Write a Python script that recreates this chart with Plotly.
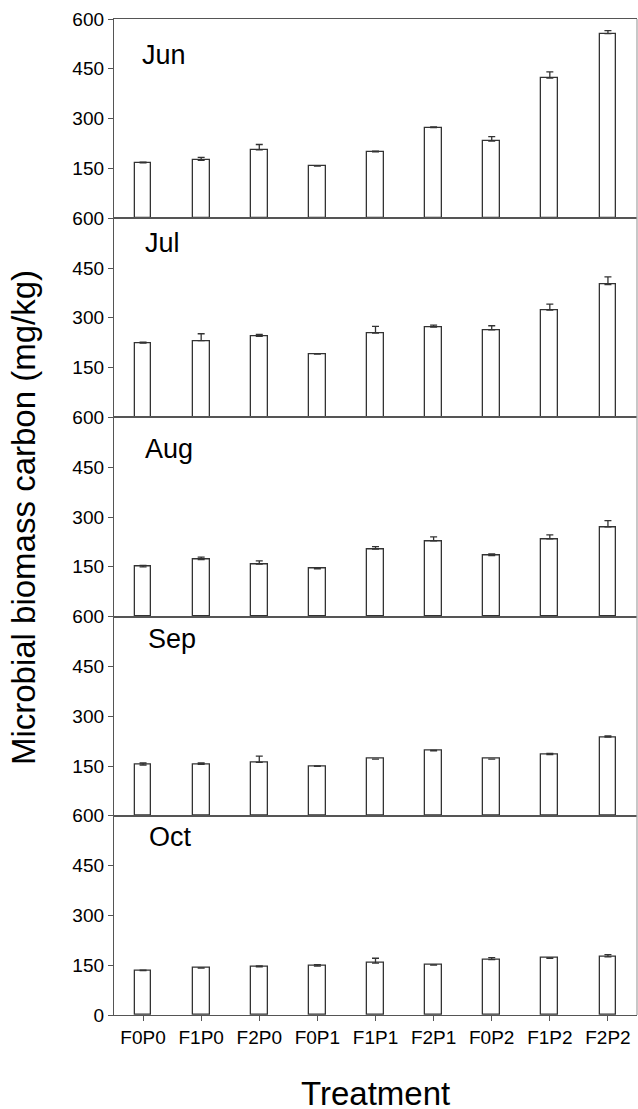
import plotly.graph_objects as go
from plotly.subplots import make_subplots

treatments = ["F0P0", "F1P0", "F2P0", "F0P1", "F1P1", "F2P1", "F0P2", "F1P2", "F2P2"]
months = ["Jun", "Jul", "Aug", "Sep", "Oct"]

jun = [167, 174, 206, 157, 200, 273, 232, 422, 556]
jun_err = [2, 9, 16, 1, 2, 2, 14, 19, 9]
jul = [224, 231, 244, 191, 254, 272, 264, 323, 400]
jul_err = [3, 21, 6, 0, 20, 6, 12, 18, 23]
aug = [150, 172, 158, 144, 203, 228, 184, 234, 270]
aug_err = [4, 7, 10, 1, 8, 12, 5, 12, 19]
sep = [153, 155, 161, 149, 171, 196, 171, 184, 237]
sep_err = [6, 4, 19, 1, 0, 1, 0, 4, 4]
oct_ = [134, 141, 145, 147, 156, 150, 167, 171, 175]
oct_err = [1, 1, 3, 5, 15, 1, 6, 1, 7]

values = [jun, jul, aug, sep, oct_]
errors = [jun_err, jul_err, aug_err, sep_err, oct_err]

# panel-label placement (domain fractions)
label_x = [0.050, 0.056, 0.056, 0.061, 0.064]
label_y = [0.819, 0.874, 0.840, 0.890, 0.895]

fig = make_subplots(rows=5, cols=1, shared_xaxes=True, vertical_spacing=0)

font_family = "Liberation Sans, Arial, sans-serif"
axis_col = "#555555"

for i, (m, v, e) in enumerate(zip(months, values, errors)):
    r = i + 1
    fig.add_trace(go.Bar(
        x=treatments, y=v, width=0.29,
        marker=dict(color="white", line=dict(color="#333333", width=1.3)),
        error_y=dict(type="data", array=e, arrayminus=[0]*len(e), symmetric=False,
                     color="#333333", thickness=1.3, width=3.5),
        showlegend=False, hoverinfo="skip",
    ), row=r, col=1)
    tickvals = [0, 150, 300, 450, 600] if r == 5 else [150, 300, 450, 600]
    fig.update_yaxes(range=[0, 600], tickvals=tickvals, ticks="outside", ticklen=5,
                     tickcolor=axis_col, showline=True, linecolor=axis_col, linewidth=1.3,
                     showgrid=False, zeroline=False,
                     tickfont=dict(size=19, color="black", family=font_family),
                     row=r, col=1)
    fig.update_xaxes(range=[-0.5, 8.5], showline=True, linecolor=axis_col, linewidth=1.3,
                     mirror=True, showgrid=False, zeroline=False,
                     ticks="outside" if r == 5 else "", ticklen=5, tickcolor=axis_col,
                     showticklabels=(r == 5),
                     tickfont=dict(size=19, color="black", family=font_family),
                     row=r, col=1)
    yref = "y domain" if r == 1 else f"y{r} domain"
    xref = "x domain" if r == 1 else f"x{r} domain"
    fig.add_annotation(text=m, xref=xref, yref=yref, x=label_x[i], y=label_y[i],
                       xanchor="left", yanchor="middle", showarrow=False,
                       font=dict(size=27, color="black", family=font_family))

# light right border
fig.add_shape(type="line", xref="paper", yref="paper", x0=1, x1=1, y0=0, y1=1,
              line=dict(color="#aaaaaa", width=1.3))

fig.add_annotation(text="Microbial biomass carbon (mg/kg)", xref="paper", yref="paper",
                   x=-0.1732, y=0.4993, textangle=-90, showarrow=False,
                   xanchor="center", yanchor="middle",
                   font=dict(size=33, color="black", family=font_family))
fig.add_annotation(text="Treatment", xref="paper", yref="paper",
                   x=0.5, y=-0.0785, showarrow=False, xanchor="center", yanchor="middle",
                   font=dict(size=33, color="black", family=font_family))

fig.update_layout(
    width=638, height=1109,
    margin=dict(l=114, r=1, t=18.5, b=94),
    plot_bgcolor="white", paper_bgcolor="white",
    bargap=0,
)

fig.write_html("out.html", config={"displayModeBar": False},
               post_script="document.body.style.margin='0';document.body.style.overflow='hidden';")
